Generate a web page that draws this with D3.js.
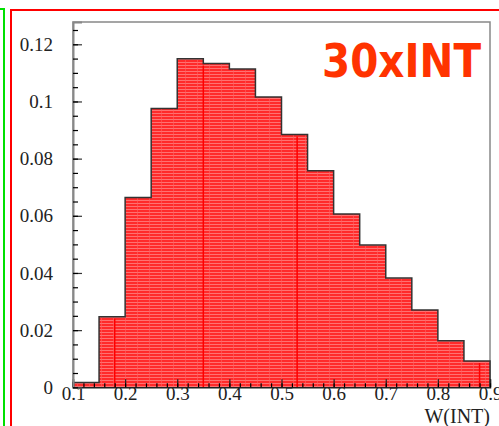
<!DOCTYPE html>
<html><head><meta charset="utf-8">
<script src="https://cdn.jsdelivr.net/npm/d3@7"></script>
<style>html,body{margin:0;padding:0;background:#fff;overflow:hidden}</style>
</head><body>
<script>
const binEdges = [0.10,0.15,0.20,0.25,0.30,0.35,0.40,0.45,0.50,0.55,0.60,0.65,0.70,0.75,0.80,0.85,0.90];
const binValues = [0.0017,0.0247,0.0664,0.0975,0.1149,0.1133,0.1114,0.1016,0.0884,0.0758,0.0606,0.0498,0.0382,0.0270,0.0163,0.0092];
const xTickLabels = ["0.1","0.2","0.3","0.4","0.5","0.6","0.7","0.8","0.9"];
const yTickLabels = ["0","0.02","0.04","0.06","0.08","0.1","0.12"];
const title = "30xINT";
const xTitle = "W(INT)";

const W = 499, H = 426;
const svg = d3.select("body").append("svg").attr("width", W).attr("height", H);

const defs = svg.append("defs");
const pat = defs.append("pattern").attr("id","hatch").attr("patternUnits","userSpaceOnUse")
  .attr("width", 12).attr("height", 3);
pat.append("rect").attr("width",12).attr("height",3).attr("fill","#ff2b2b");
pat.append("rect").attr("y",2).attr("width",12).attr("height",1).attr("fill","#ff7272");
pat.append("rect").attr("x",5).attr("width",1).attr("height",3).attr("fill","#ff6060").attr("opacity",0.6);

svg.append("rect").attr("x",-10).attr("y",9).attr("width",14).attr("height",H).attr("fill","none").attr("stroke","#00e000").attr("stroke-width",2);
svg.append("rect").attr("x",11).attr("y",10).attr("width",W).attr("height",H).attr("fill","none").attr("stroke","#ff0000").attr("stroke-width",2);

const L = 73, R = 490, T = 22, B = 387.3;
const x = d3.scaleLinear().domain([0.1, 0.9]).range([L, R]);
const y = d3.scaleLinear().domain([0, 0.1278]).range([B, T]);

svg.append("rect").attr("x",L).attr("y",T).attr("width",R-L).attr("height",B-T)
  .attr("fill","none").attr("stroke","#888").attr("stroke-width",1.5);

const pts = [];
binValues.forEach((v,i)=>{ pts.push([binEdges[i], v]); pts.push([binEdges[i+1], v]); });
const area = d3.area().x(d=>x(d[0])).y0(y(0)).y1(d=>y(d[1]));
svg.append("path").datum(pts).attr("d", area).attr("fill","url(#hatch)");
const line = d3.line().x(d=>x(d[0])).y(d=>y(d[1]));
const outline = [[binEdges[0],0]].concat(pts).concat([[binEdges[binEdges.length-1],0]]);
svg.append("path").datum(outline).attr("d", line).attr("fill","none").attr("stroke","#333").attr("stroke-width",1.5);

[0.18,0.35,0.53,0.88].forEach(v=>{
  const i = d3.bisectRight(binEdges, v) - 1;
  svg.append("line").attr("x1",x(v)).attr("x2",x(v)).attr("y1",y(binValues[i])+2).attr("y2",B)
    .attr("stroke","#ff0000").attr("stroke-width",1.5);
});

const serif = "'Liberation Serif', 'DejaVu Serif', serif";
const xAxis = d3.axisBottom(x).tickValues(d3.range(0.1,0.9001,0.1)).tickSize(-8).tickFormat((d,i)=>xTickLabels[i]);
const gx = svg.append("g").attr("transform",`translate(0,${B})`).call(xAxis);
const xMinor = d3.axisBottom(x).tickValues(d3.range(0.1,0.9001,0.02)).tickSize(-4).tickFormat("");
svg.append("g").attr("transform",`translate(0,${B})`).call(xMinor).select(".domain").remove();
gx.attr("font-family", null).attr("font-size", null);
gx.select(".domain").attr("stroke","#222").attr("stroke-width",1.5);
gx.selectAll(".tick line").attr("stroke","#222");
gx.selectAll("text").style("font-family",serif).style("font-size","19px").attr("fill","#222").attr("dy","0.5em");

const yAxis = d3.axisLeft(y).tickValues(d3.range(0,0.1201,0.02)).tickSize(-9).tickPadding(20).tickFormat((d,i)=>yTickLabels[i]);
const gy = svg.append("g").attr("transform",`translate(${L},0)`).call(yAxis);
const yMinor = d3.axisLeft(y).tickValues(d3.range(0,0.1276,0.005)).tickSize(-5).tickFormat("");
svg.append("g").attr("transform",`translate(${L},0)`).call(yMinor).select(".domain").remove();
gy.attr("font-family", null).attr("font-size", null);
gy.select(".domain").attr("stroke","#888").attr("stroke-width",2);
gy.selectAll(".tick line").attr("stroke","#333");
gy.selectAll("text").style("font-family",serif).style("font-size","19px").attr("fill","#222");
svg.selectAll(".tick line").attr("stroke-width",1.2);

svg.append("text").attr("x",R).attr("y",423).attr("text-anchor","end")
  .style("font-family",serif).style("font-size","20px").attr("fill","#222").text(xTitle);

svg.append("text").attr("x",322).attr("y",77).attr("textLength",159).attr("lengthAdjust","spacingAndGlyphs")
  .style("font-family","'DejaVu Sans'").attr("font-weight","bold").style("font-size","46px").attr("fill","#ff3300").text(title);
</script>
</body></html>
